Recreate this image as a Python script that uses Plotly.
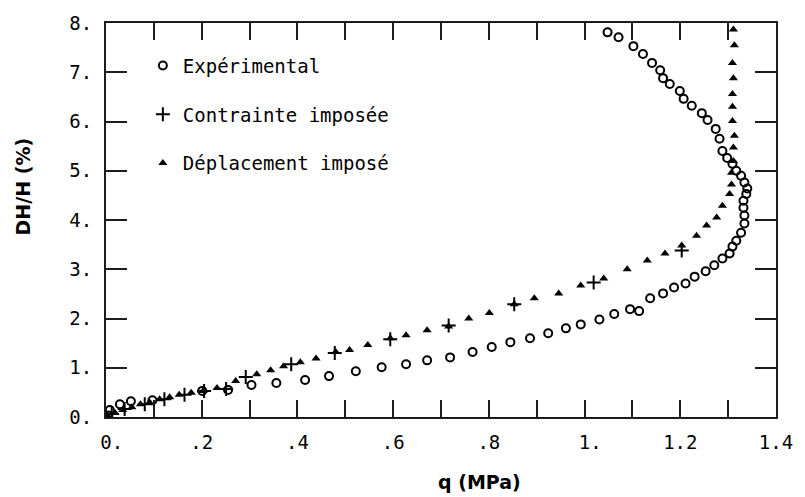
import plotly.graph_objects as go

# Mesures : q (MPa) et DH/H (%)
exp_q = [0.005, 0.008, 0.029, 0.052, 0.097, 0.201, 0.255, 0.304, 0.356, 0.416,
         0.466, 0.522, 0.576, 0.627, 0.671, 0.719, 0.766, 0.806, 0.845, 0.886,
         0.924, 0.961, 0.992, 1.031, 1.062, 1.095, 1.114, 1.137, 1.164, 1.187,
         1.211, 1.230, 1.253, 1.271, 1.288, 1.303, 1.309, 1.317, 1.327, 1.334,
         1.334, 1.332, 1.332, 1.338, 1.340, 1.334, 1.327, 1.317, 1.309, 1.298,
         1.288, 1.282, 1.274, 1.257, 1.245, 1.224, 1.207, 1.199, 1.178, 1.164,
         1.158, 1.141, 1.122, 1.102, 1.071, 1.048]
exp_h = [0.03, 0.14, 0.26, 0.32, 0.34, 0.53, 0.55, 0.65, 0.69, 0.75,
         0.83, 0.93, 1.01, 1.07, 1.15, 1.21, 1.32, 1.42, 1.52, 1.60,
         1.70, 1.80, 1.88, 1.98, 2.09, 2.19, 2.15, 2.41, 2.51, 2.63,
         2.71, 2.85, 2.96, 3.08, 3.22, 3.32, 3.46, 3.58, 3.74, 3.93,
         4.09, 4.25, 4.39, 4.53, 4.64, 4.76, 4.90, 5.00, 5.14, 5.26,
         5.40, 5.65, 5.85, 6.03, 6.17, 6.32, 6.46, 6.62, 6.76, 6.88,
         7.04, 7.19, 7.37, 7.53, 7.71, 7.81]

# Simulation à contrainte imposée
con_q = [0.012, 0.039, 0.081, 0.122, 0.164, 0.205, 0.251, 0.292, 0.387, 0.478,
         0.594, 0.716, 0.853, 1.019, 1.203]
con_h = [0.06, 0.16, 0.26, 0.36, 0.45, 0.53, 0.57, 0.81, 1.07, 1.30,
         1.58, 1.86, 2.29, 2.73, 3.38]

# Simulation à déplacement imposé
dep_q = [0.004, 0.019, 0.035, 0.054, 0.072, 0.091, 0.112, 0.133, 0.153, 0.178,
         0.203, 0.232, 0.271, 0.315, 0.344, 0.371, 0.406, 0.439, 0.480, 0.509,
         0.547, 0.594, 0.627, 0.671, 0.716, 0.758, 0.801, 0.853, 0.895, 0.946,
         0.992, 1.040, 1.089, 1.131, 1.168, 1.203, 1.234, 1.255, 1.276, 1.288,
         1.303, 1.307, 1.307, 1.311, 1.311, 1.313, 1.309, 1.309, 1.309, 1.311,
         1.309, 1.313, 1.311]
dep_h = [0.02, 0.08, 0.14, 0.20, 0.26, 0.30, 0.36, 0.40, 0.45, 0.49,
         0.53, 0.59, 0.73, 0.87, 0.95, 1.03, 1.11, 1.19, 1.32, 1.36,
         1.46, 1.60, 1.66, 1.76, 1.84, 2.00, 2.11, 2.29, 2.41, 2.51,
         2.67, 2.81, 3.00, 3.18, 3.32, 3.48, 3.68, 3.89, 4.05, 4.29,
         4.53, 4.72, 4.96, 5.20, 5.47, 5.71, 6.01, 6.30, 6.56, 6.88,
         7.19, 7.55, 7.87]

x_tickvals = [0.0, 0.1, 0.2, 0.3, 0.4, 0.5, 0.6, 0.7, 0.8, 0.9, 1.0, 1.1, 1.2, 1.3, 1.4]
x_ticktext = ["\u00a00.", "", ".2", "", ".4", "", ".6", "", ".8", "", "\u00a01.", "", "1.2", "", "1.4"]
y_tickvals = [0, 1, 2, 3, 4, 5, 6, 7, 8]
y_ticktext = ["0.", "1.", "2.", "3.", "4.", "5.", "6.", "7.", "8."]

MONO = "DejaVu Sans Mono"
BOLD = "DejaVu Sans"
FRAME = "#1c1c1c"

fig = go.Figure()
fig.add_trace(go.Scatter(
    x=exp_q, y=exp_h, mode="markers", name="Expérimental", legendgroup="a",
    marker=dict(symbol="circle-open", size=8, color="black", line=dict(width=2, color="black")),
))
fig.add_trace(go.Scatter(
    x=con_q, y=con_h, mode="markers", name="Contrainte imposée", legendgroup="b",
    marker=dict(symbol="cross-thin-open", size=10, color="black", line=dict(width=2, color="black")),
))
fig.add_trace(go.Scatter(
    x=dep_q, y=dep_h, mode="markers", name="Déplacement imposé", legendgroup="c",
    marker=dict(symbol="triangle-up", size=8, color="black", line=dict(width=0)),
))

# Cadre fermé avec graduations intérieures sur les quatre côtés
axis_common = dict(
    showgrid=False, zeroline=False, showline=True, linecolor=FRAME, linewidth=2,
    mirror="ticks", ticks="inside", tickcolor=FRAME, tickwidth=2,
    tickfont=dict(family=MONO, size=19, color="black"),
)
fig.update_xaxes(range=[0, 1.4], tickmode="array", tickvals=x_tickvals, ticktext=x_ticktext,
                 ticklen=17, ticklabelstandoff=7, **axis_common)
fig.update_yaxes(range=[0, 8], tickmode="array", tickvals=y_tickvals, ticktext=y_ticktext,
                 ticklen=21, ticklabelstandoff=8, **axis_common)

fig.add_annotation(text="<b>q (MPa)</b>", xref="paper", yref="paper", x=0.558, y=-0.165,
                   xanchor="center", yanchor="middle", showarrow=False,
                   font=dict(family=BOLD, size=19, color="black"))
fig.add_annotation(text="<b>DH/H (%)</b>", xref="paper", yref="paper", x=-0.124, y=0.585,
                   xanchor="center", yanchor="middle", textangle=-90, showarrow=False,
                   font=dict(family=BOLD, size=19, color="black"))

fig.update_layout(
    width=805, height=497,
    margin=dict(l=106, r=23, t=22, b=80),
    paper_bgcolor="white", plot_bgcolor="white",
    showlegend=True,
    legend=dict(x=0.055, y=0.94, xanchor="left", yanchor="top",
                font=dict(family=MONO, size=19, color="black"),
                bgcolor="rgba(0,0,0,0)", borderwidth=0,
                traceorder="grouped", tracegroupgap=21),
)

fig.write_html("out.html")
